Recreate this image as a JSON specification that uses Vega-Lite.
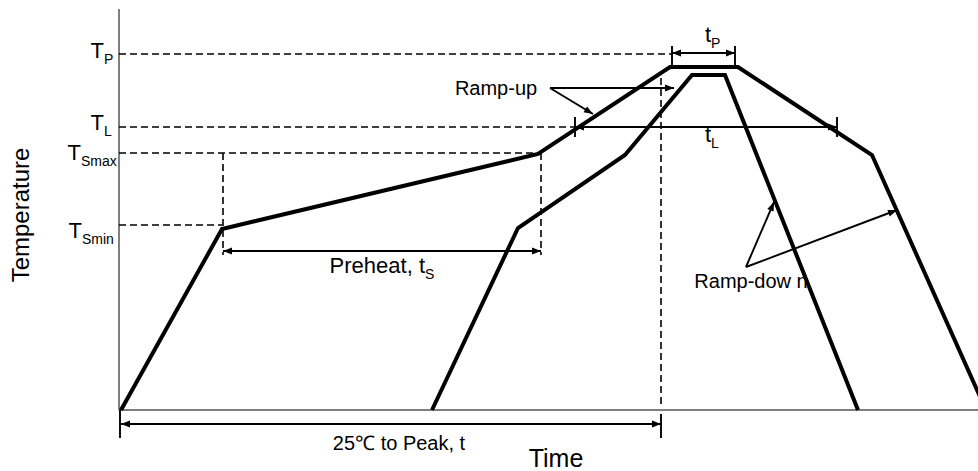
{
  "$schema": "https://vega.github.io/schema/vega-lite/v6.json",
  "width": 978,
  "height": 471,
  "autosize": {"type": "none"},
  "padding": 0,
  "background": "white",
  "config": {"view": {"stroke": null}, "text": {"font": "Liberation Sans", "color": "black"}},
  "datasets": {
    "axes": [
      {"x": 0, "y": 0, "x2": 0, "y2": 401},
      {"x": 0, "y": 0, "x2": 859, "y2": 0}
    ],
    "dashed": [
      {"x": 0, "y": 356, "x2": 553, "y2": 356},
      {"x": 0, "y": 283, "x2": 456, "y2": 283},
      {"x": 0, "y": 257, "x2": 419, "y2": 257},
      {"x": 0, "y": 185, "x2": 103, "y2": 185},
      {"x": 104, "y": 257, "x2": 104, "y2": 155},
      {"x": 422, "y": 257, "x2": 422, "y2": 155},
      {"x": 542, "y": 332, "x2": 542, "y2": 5}
    ],
    "solid": [
      {"x": 104, "y": 159, "x2": 422, "y2": 159},
      {"x": 2, "y": -14, "x2": 542, "y2": -14},
      {"x": 1, "y": 0, "x2": 1, "y2": -28},
      {"x": 542, "y": -4, "x2": 542, "y2": -28},
      {"x": 553, "y": 357, "x2": 616, "y2": 357},
      {"x": 553, "y": 364, "x2": 553, "y2": 344},
      {"x": 616, "y": 364, "x2": 616, "y2": 344},
      {"x": 456, "y": 283, "x2": 718, "y2": 283},
      {"x": 456, "y": 293, "x2": 456, "y2": 273},
      {"x": 718, "y": 293, "x2": 718, "y2": 273},
      {"x": 431, "y": 322, "x2": 555, "y2": 322},
      {"x": 431, "y": 322, "x2": 474, "y2": 296},
      {"x": 627, "y": 143, "x2": 655, "y2": 208},
      {"x": 627, "y": 143, "x2": 778, "y2": 200}
    ],
    "heads": [
      {"x": 104, "y": 159, "dir": 180},
      {"x": 422, "y": 159, "dir": 0},
      {"x": 2, "y": -14, "dir": 180},
      {"x": 542, "y": -14, "dir": 0},
      {"x": 553, "y": 357, "dir": 180},
      {"x": 616, "y": 357, "dir": 0},
      {"x": 456, "y": 283, "dir": 180},
      {"x": 718, "y": 283, "dir": 0},
      {"x": 555, "y": 322, "dir": 0},
      {"x": 474, "y": 296, "dir": 31},
      {"x": 655, "y": 208, "dir": -66.7},
      {"x": 778, "y": 200, "dir": -20.7}
    ],
    "curves": [
      {"curve": "A", "i": 0, "x": 2, "y": 0},
      {"curve": "A", "i": 1, "x": 103, "y": 181},
      {"curve": "A", "i": 2, "x": 419, "y": 256},
      {"curve": "A", "i": 3, "x": 551, "y": 343},
      {"curve": "A", "i": 4, "x": 619, "y": 343},
      {"curve": "A", "i": 5, "x": 753, "y": 255},
      {"curve": "A", "i": 6, "x": 867, "y": 0},
      {"curve": "B", "i": 0, "x": 313, "y": 0},
      {"curve": "B", "i": 1, "x": 399, "y": 182},
      {"curve": "B", "i": 2, "x": 506, "y": 255},
      {"curve": "B", "i": 3, "x": 573, "y": 335},
      {"curve": "B", "i": 4, "x": 606, "y": 335},
      {"curve": "B", "i": 5, "x": 739, "y": 0}
    ],
    "labels": [
      {"x": -15, "y": 352, "main": "T", "sub": "P"},
      {"x": -15, "y": 280, "main": "T", "sub": "L"},
      {"x": -38, "y": 250, "main": "T", "sub": "Smax"},
      {"x": -37, "y": 172, "main": "T", "sub": "Smin"},
      {"x": 592, "y": 368, "main": "t", "sub": "P"},
      {"x": 592, "y": 268, "main": "t", "sub": "L"},
      {"x": 306, "y": 137, "main": "Preheat, t", "sub": "S"}
    ],
    "notes": [
      {"x": 377, "y": 315, "text": "Ramp-up"},
      {"x": 632, "y": 122, "text": "Ramp-dow n"},
      {"x": 280, "y": -40, "text": "25℃ to Peak, t"}
    ],
    "titles": [
      {"x": 437, "y": -57, "text": "Time"}
    ],
    "ytitle": [
      {"x": -97, "y": 195, "text": "Temperature"}
    ]
  },
  "encoding": {
    "x": {"field": "x", "type": "quantitative", "scale": {"domain": [-119, 859], "nice": false, "zero": false}, "axis": null},
    "y": {"field": "y", "type": "quantitative", "scale": {"domain": [-61, 410], "nice": false, "zero": false}, "axis": null}
  },
  "layer": [
    {
      "data": {"name": "axes"},
      "mark": {"type": "rule", "stroke": "black", "strokeWidth": 1},
      "encoding": {"x2": {"field": "x2"}, "y2": {"field": "y2"}}
    },
    {
      "data": {"name": "dashed"},
      "mark": {"type": "rule", "stroke": "black", "strokeWidth": 1.6, "strokeDash": [7, 4]},
      "encoding": {"x2": {"field": "x2"}, "y2": {"field": "y2"}}
    },
    {
      "data": {"name": "solid"},
      "mark": {"type": "rule", "stroke": "black", "strokeWidth": 1.9},
      "encoding": {"x2": {"field": "x2"}, "y2": {"field": "y2"}}
    },
    {
      "data": {"name": "heads"},
      "mark": {"type": "point", "shape": "M0,0L-1,-0.38L-1,0.38Z", "filled": true, "fill": "black", "stroke": null, "opacity": 1, "size": 324},
      "encoding": {"angle": {"field": "dir", "type": "quantitative", "scale": null}}
    },
    {
      "data": {"name": "curves"},
      "mark": {"type": "line", "stroke": "black", "strokeWidth": 4, "strokeJoin": "miter", "strokeCap": "butt"},
      "encoding": {"detail": {"field": "curve"}, "order": {"field": "i", "type": "quantitative"}}
    },
    {
      "data": {"name": "labels"},
      "mark": {"type": "text", "align": "right", "baseline": "alphabetic", "fontSize": 22},
      "encoding": {"text": {"field": "main"}}
    },
    {
      "data": {"name": "labels"},
      "mark": {"type": "text", "align": "left", "baseline": "alphabetic", "fontSize": 14, "dy": 6},
      "encoding": {"text": {"field": "sub"}}
    },
    {
      "data": {"name": "notes"},
      "mark": {"type": "text", "align": "center", "baseline": "alphabetic", "fontSize": 20},
      "encoding": {"text": {"field": "text"}}
    },
    {
      "data": {"name": "titles"},
      "mark": {"type": "text", "align": "center", "baseline": "alphabetic", "fontSize": 25},
      "encoding": {"text": {"field": "text"}}
    },
    {
      "data": {"name": "ytitle"},
      "mark": {"type": "text", "align": "center", "baseline": "middle", "fontSize": 24, "angle": 270},
      "encoding": {"text": {"field": "text"}}
    }
  ]
}
